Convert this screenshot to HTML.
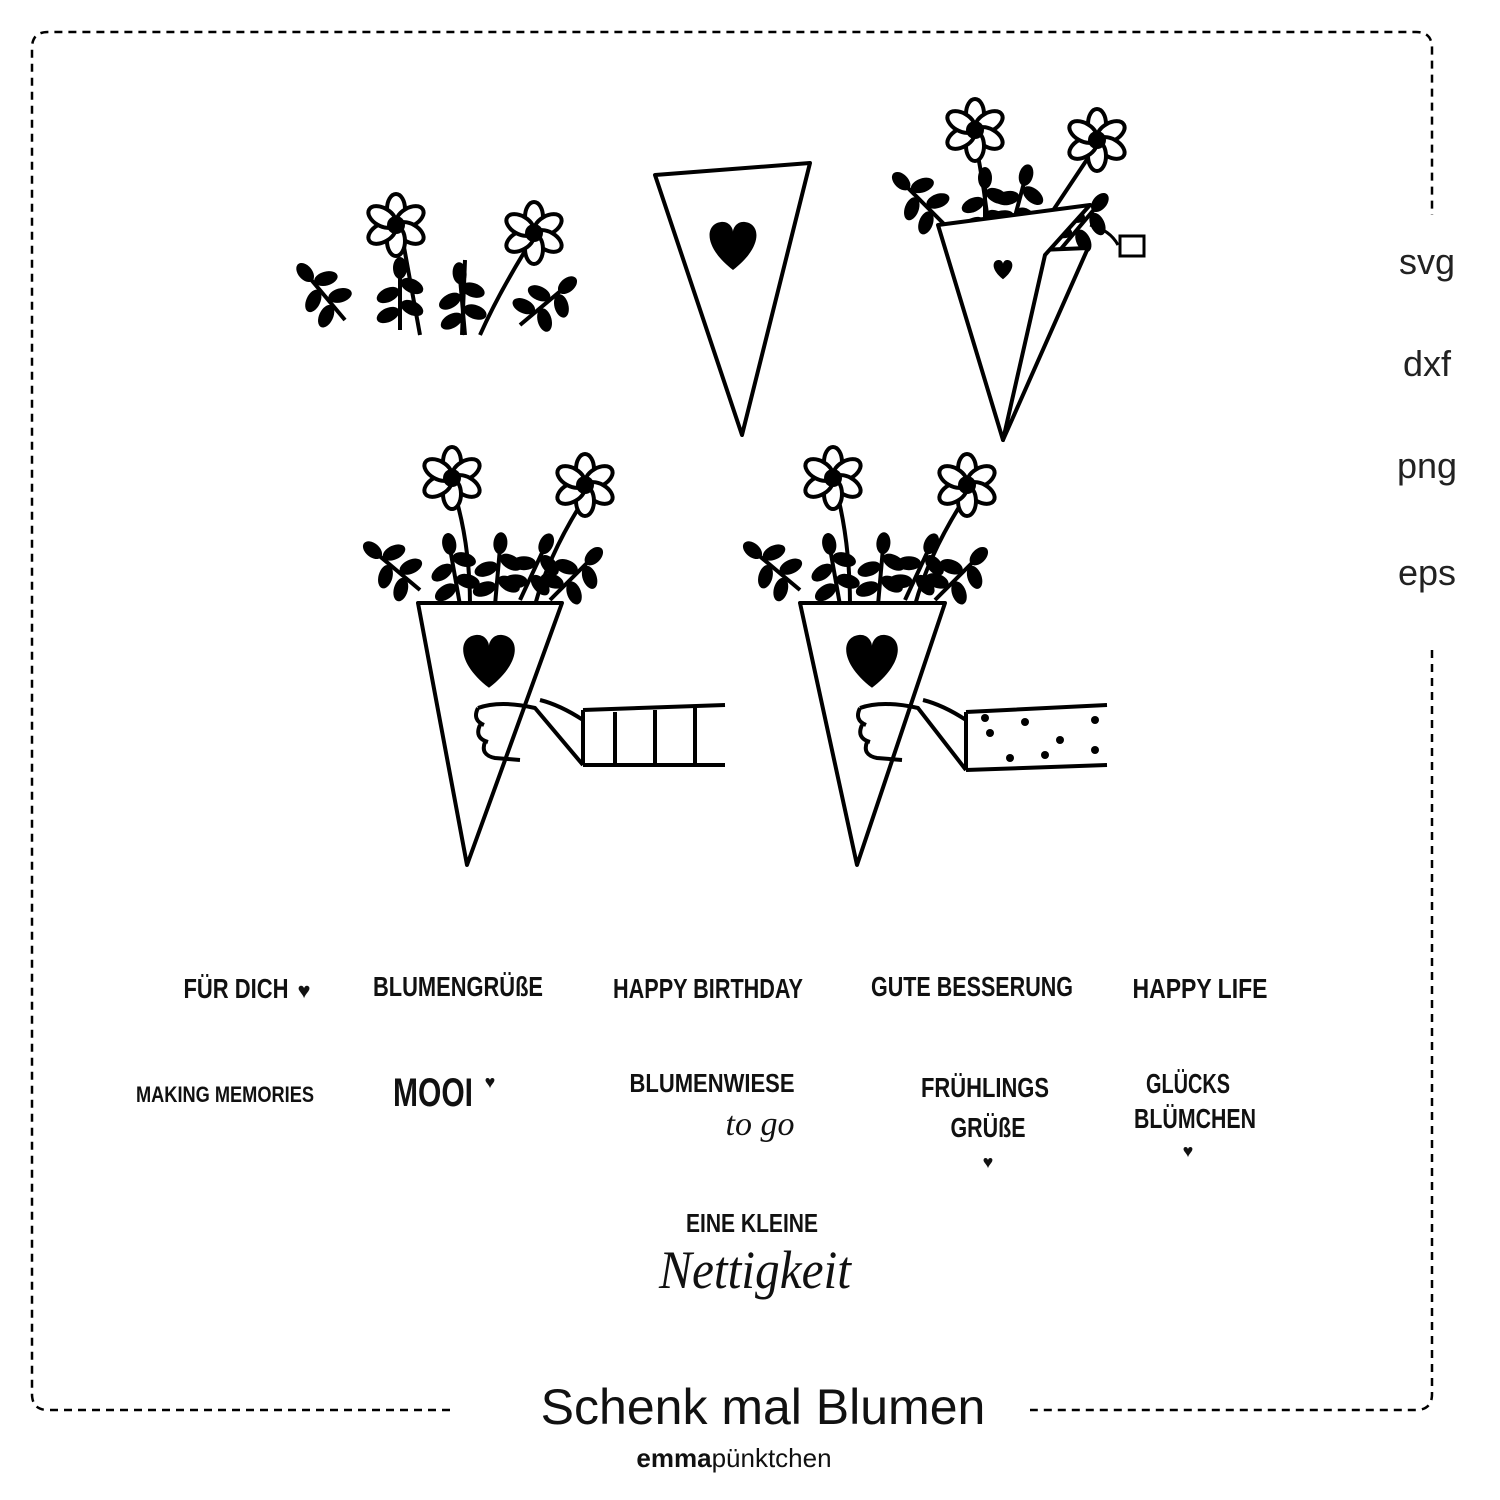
<!DOCTYPE html>
<html><head><meta charset="utf-8"><style>
html,body{margin:0;padding:0;background:#fff}
svg{display:block}
</style></head><body>
<svg width="1500" height="1500" viewBox="0 0 1500 1500" xmlns="http://www.w3.org/2000/svg">
<defs>
<g id="daisy">
 <g fill="#fff" stroke="#000" stroke-width="4">
  <ellipse cx="0" cy="-16" rx="9" ry="15"/>
  <ellipse cx="0" cy="-16" rx="9" ry="15" transform="rotate(60)"/>
  <ellipse cx="0" cy="-16" rx="9" ry="15" transform="rotate(120)"/>
  <ellipse cx="0" cy="-16" rx="9" ry="15" transform="rotate(180)"/>
  <ellipse cx="0" cy="-16" rx="9" ry="15" transform="rotate(240)"/>
  <ellipse cx="0" cy="-16" rx="9" ry="15" transform="rotate(300)"/>
 </g>
 <circle r="9" fill="#000"/>
</g>
<g id="branch">
 <path d="M0,0 L0,-60" stroke="#000" stroke-width="4" fill="none"/>
 <ellipse cx="-12" cy="-15" rx="12" ry="7" transform="rotate(-25 -12 -15)"/>
 <ellipse cx="12" cy="-22" rx="12" ry="7" transform="rotate(25 12 -22)"/>
 <ellipse cx="-12" cy="-35" rx="12" ry="7" transform="rotate(-25 -12 -35)"/>
 <ellipse cx="12" cy="-44" rx="12" ry="7" transform="rotate(25 12 -44)"/>
 <ellipse cx="0" cy="-62" rx="7" ry="11"/>
</g>
<path id="heart" d="M0,18 C-30,-5 -28,-28 -12,-30 C-4,-31 0,-24 0,-20 C0,-24 4,-31 12,-30 C28,-28 30,-5 0,18Z"/>
</defs>

<!-- dashed border -->
<g fill="none" stroke="#000" stroke-width="2.5" stroke-dasharray="8,6">
 <path d="M450,1410 L48,1410 Q32,1410 32,1394 L32,48 Q32,32 48,32 L1416,32 Q1432,32 1432,48 L1432,215"/>
 <path d="M1432,650 L1432,1394 Q1432,1410 1416,1410 L1030,1410"/>
</g>

<g font-family="Liberation Sans, DejaVu Sans, sans-serif" font-weight="300" font-size="36" fill="#222" text-anchor="middle">
 <text x="1427" y="274">svg</text>
 <text x="1427" y="376">dxf</text>
 <text x="1427" y="478">png</text>
 <text x="1427" y="585">eps</text>
</g>
<text x="763" y="1424" font-family="Liberation Sans, sans-serif" font-size="50" font-weight="300" fill="#111" text-anchor="middle">Schenk mal Blumen</text>
<text x="734" y="1467" font-family="Liberation Sans, sans-serif" font-size="26" fill="#111" text-anchor="middle"><tspan font-weight="bold">emma</tspan>pünktchen</text>

<!-- top-left flowers -->
<g fill="#000">
 <path d="M400,225 Q410,280 420,335 M535,235 Q500,290 480,335 M400,260 L400,330 M465,260 L462,335" stroke="#000" stroke-width="4" fill="none"/>
 <use href="#branch" transform="translate(345,320) rotate(-40)"/>
 <use href="#branch" transform="translate(400,330)"/>
 <use href="#branch" transform="translate(465,335) rotate(-5)"/>
 <use href="#branch" transform="translate(520,325) rotate(50)"/>
 <use href="#daisy" transform="translate(396,225)"/>
 <use href="#daisy" transform="translate(534,233)"/>
</g>

<!-- top middle cone -->
<polygon points="655,175 810,163 742,435" fill="#fff" stroke="#000" stroke-width="4" stroke-linejoin="round"/>
<use href="#heart" transform="translate(733,252)" fill="#000"/>

<!-- top right bouquet -->
<g fill="#000">
 <path d="M975,140 Q985,190 990,240 M1100,140 Q1060,200 1030,245" stroke="#000" stroke-width="4" fill="none"/>
 <use href="#branch" transform="translate(945,225) rotate(-45)"/>
 <use href="#branch" transform="translate(1010,235) rotate(15)"/>
 <use href="#branch" transform="translate(985,240)"/>
 <use href="#branch" transform="translate(1060,250) rotate(40)"/>
 <use href="#daisy" transform="translate(975,130)"/>
 <use href="#daisy" transform="translate(1097,140)"/>
</g>
<polygon points="1040,250 1088,248 1003,440" fill="#fff" stroke="#000" stroke-width="4" stroke-linejoin="round"/>
<polygon points="938,225 1090,205 1045,255 1003,440" fill="#fff" stroke="#000" stroke-width="4" stroke-linejoin="round"/>
<use href="#heart" transform="translate(1003,272) scale(0.4)" fill="#000"/>
<path d="M1090,225 Q1110,230 1118,245" stroke="#000" stroke-width="3" fill="none"/>
<rect x="1120" y="236" width="24" height="20" fill="#fff" stroke="#000" stroke-width="3"/>

<!-- bottom left bouquet -->
<g fill="#000">
 <path d="M452,485 Q470,540 470,605 M590,490 Q550,550 535,605" stroke="#000" stroke-width="4" fill="none"/>
 <use href="#branch" transform="translate(420,590) rotate(-50)"/>
 <use href="#branch" transform="translate(460,605) rotate(-10)"/>
 <use href="#branch" transform="translate(495,605) rotate(5)"/>
 <use href="#branch" transform="translate(520,600) rotate(25)"/>
 <use href="#branch" transform="translate(550,600) rotate(45)"/>
 <use href="#daisy" transform="translate(452,478)"/>
 <use href="#daisy" transform="translate(585,485)"/>
</g>
<polygon points="418,603 562,603 467,865" fill="#fff" stroke="#000" stroke-width="4" stroke-linejoin="round"/>
<use href="#heart" transform="translate(489,668) scale(1.1)" fill="#000"/>
<path d="M540,700 Q560,705 583,720 M478,708 Q500,700 535,708 L583,765 M478,708 Q472,720 484,725 M480,725 Q474,738 488,742 M485,742 Q480,755 495,758 L520,760" stroke="#000" stroke-width="4" fill="none"/>
<g stroke="#000" stroke-width="4" fill="#fff">
 <path d="M583,710 L725,705 M583,765 L725,765 M583,710 L583,765"/>
 <path d="M615,712 L615,765 M655,710 L655,765 M695,708 L695,765" fill="none"/>
</g>

<!-- bottom right bouquet -->
<g fill="#000">
 <path d="M835,485 Q850,540 850,605 M970,490 Q930,550 915,605" stroke="#000" stroke-width="4" fill="none"/>
 <use href="#branch" transform="translate(800,590) rotate(-50)"/>
 <use href="#branch" transform="translate(840,605) rotate(-10)"/>
 <use href="#branch" transform="translate(878,605) rotate(5)"/>
 <use href="#branch" transform="translate(905,600) rotate(25)"/>
 <use href="#branch" transform="translate(935,600) rotate(45)"/>
 <use href="#daisy" transform="translate(833,478)"/>
 <use href="#daisy" transform="translate(967,485)"/>
</g>
<polygon points="800,603 945,603 857,865" fill="#fff" stroke="#000" stroke-width="4" stroke-linejoin="round"/>
<use href="#heart" transform="translate(872,668) scale(1.1)" fill="#000"/>
<path d="M923,700 Q943,705 966,720 M860,708 Q882,700 918,708 L966,770 M860,708 Q854,720 866,725 M862,725 Q856,738 870,742 M867,742 Q862,755 877,758 L902,760" stroke="#000" stroke-width="4" fill="none"/>
<path d="M966,712 L1107,705 M966,770 L1107,765 M966,712 L966,770" stroke="#000" stroke-width="4" fill="none"/>
<g fill="#000"><circle cx="990" cy="733" r="4"/><circle cx="1025" cy="722" r="4"/><circle cx="1060" cy="740" r="4"/><circle cx="1095" cy="720" r="4"/><circle cx="1010" cy="758" r="4"/><circle cx="1045" cy="755" r="4"/><circle cx="1095" cy="750" r="4"/><circle cx="985" cy="718" r="4"/></g>

<!-- lettering -->
<g font-family="Liberation Sans, DejaVu Sans, sans-serif" font-weight="bold" fill="#111" text-anchor="middle">
 <text x="236" y="998" font-size="28" textLength="105" lengthAdjust="spacingAndGlyphs">FÜR DICH</text>
 <text x="304" y="998" font-size="22">♥</text>
 <text x="458" y="996" font-size="28" textLength="170" lengthAdjust="spacingAndGlyphs">BLUMENGRÜßE</text>
 <text x="708" y="998" font-size="28" textLength="190" lengthAdjust="spacingAndGlyphs">HAPPY BIRTHDAY</text>
 <text x="972" y="996" font-size="28" textLength="202" lengthAdjust="spacingAndGlyphs">GUTE BESSERUNG</text>
 <text x="1200" y="998" font-size="28" textLength="135" lengthAdjust="spacingAndGlyphs">HAPPY LIFE</text>
 <text x="225" y="1102" font-size="22" textLength="178" lengthAdjust="spacingAndGlyphs">MAKING MEMORIES</text>
 <text x="433" y="1106" font-size="40" textLength="80" lengthAdjust="spacingAndGlyphs">MOOI</text>
 <text x="490" y="1088" font-size="18">♥</text>
 <text x="712" y="1092" font-size="26" textLength="165" lengthAdjust="spacingAndGlyphs">BLUMENWIESE</text>
 <text x="760" y="1135" font-size="34" font-weight="normal" font-style="italic" font-family="Liberation Serif, serif">to go</text>
 <text x="985" y="1097" font-size="28" textLength="128" lengthAdjust="spacingAndGlyphs">FRÜHLINGS</text>
 <text x="988" y="1137" font-size="28" textLength="75" lengthAdjust="spacingAndGlyphs">GRÜßE</text>
 <text x="988" y="1168" font-size="18">♥</text>
 <text x="1188" y="1093" font-size="28" textLength="84" lengthAdjust="spacingAndGlyphs">GLÜCKS</text>
 <text x="1195" y="1128" font-size="28" textLength="122" lengthAdjust="spacingAndGlyphs">BLÜMCHEN</text>
 <text x="1188" y="1157" font-size="18">♥</text>
 <text x="752" y="1232" font-size="26" textLength="132" lengthAdjust="spacingAndGlyphs">EINE KLEINE</text>
 <text x="755" y="1288" font-size="54" font-weight="normal" font-style="italic" font-family="Liberation Serif, serif" textLength="192" lengthAdjust="spacingAndGlyphs">Nettigkeit</text>
</g>
</svg>
</body></html>
